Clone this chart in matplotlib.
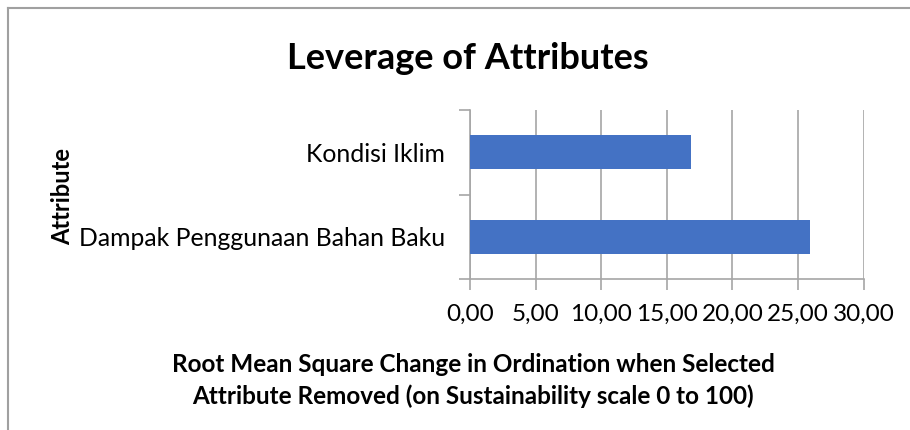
import matplotlib.pyplot as plt
from matplotlib.lines import Line2D

attributes = ["Dampak Penggunaan Bahan Baku", "Kondisi Iklim"]
rms_change = [25.9, 16.85]
xticks = [0, 5, 10, 15, 20, 25, 30]

plt.rcParams['font.family'] = ['Lato', 'DejaVu Sans']

fig = plt.figure(figsize=(9.1, 4.3), dpi=100)
ax = fig.add_axes([0.5165, 0.351, 0.4325, 0.393])

ypos = range(len(attributes))
ax.barh(ypos, rms_change, height=0.4, color='#4472C4', zorder=3)

ax.set_xlim(0, 30)
ax.set_ylim(-0.5, len(attributes) - 0.5)
ax.set_xticks(xticks)
ax.set_xticklabels([f"{v:.2f}".replace('.', ',') for v in xticks], fontsize=17.5)
ax.set_yticks(list(ypos))
ax.set_yticklabels(attributes, fontsize=17.8)
ax.set_yticks([-0.5, 0.5, 1.5], minor=True)

grey = '#a6a6a6'
ax.grid(axis='x', color=grey, linewidth=1.2, zorder=0)
ax.tick_params(axis='y', which='major', length=0, pad=18)
ax.tick_params(axis='y', which='minor', length=8, color=grey, width=1.2)
ax.tick_params(axis='x', length=8, color=grey, width=1.2, pad=10)
for s in ['top', 'right']:
    ax.spines[s].set_visible(False)
for s in ['left', 'bottom']:
    ax.spines[s].set_color(grey)
    ax.spines[s].set_linewidth(1.2)

fig.text(0.52, 0.115, "Root Mean Square Change in Ordination when Selected\nAttribute Removed (on Sustainability scale 0 to 100)",
         ha='center', va='center', fontsize=17.5, fontweight='bold', linespacing=1.45)
fig.text(0.514, 0.865, "Leverage of Attributes", ha='center', va='center',
         fontsize=26, fontweight='bold')
fig.text(0.069, 0.544, "Attribute", ha='center', va='center', rotation=90,
         fontsize=17, fontweight='bold')

# chart border (top and left edges visible)
fig.add_artist(Line2D([8 / 910, 1], [1 - 8 / 430, 1 - 8 / 430], transform=fig.transFigure, color='#a0a0a0', linewidth=1.5))
fig.add_artist(Line2D([8 / 910, 8 / 910], [0, 1 - 8 / 430], transform=fig.transFigure, color='#a0a0a0', linewidth=1.5))

fig.savefig('out.png', dpi=100)
